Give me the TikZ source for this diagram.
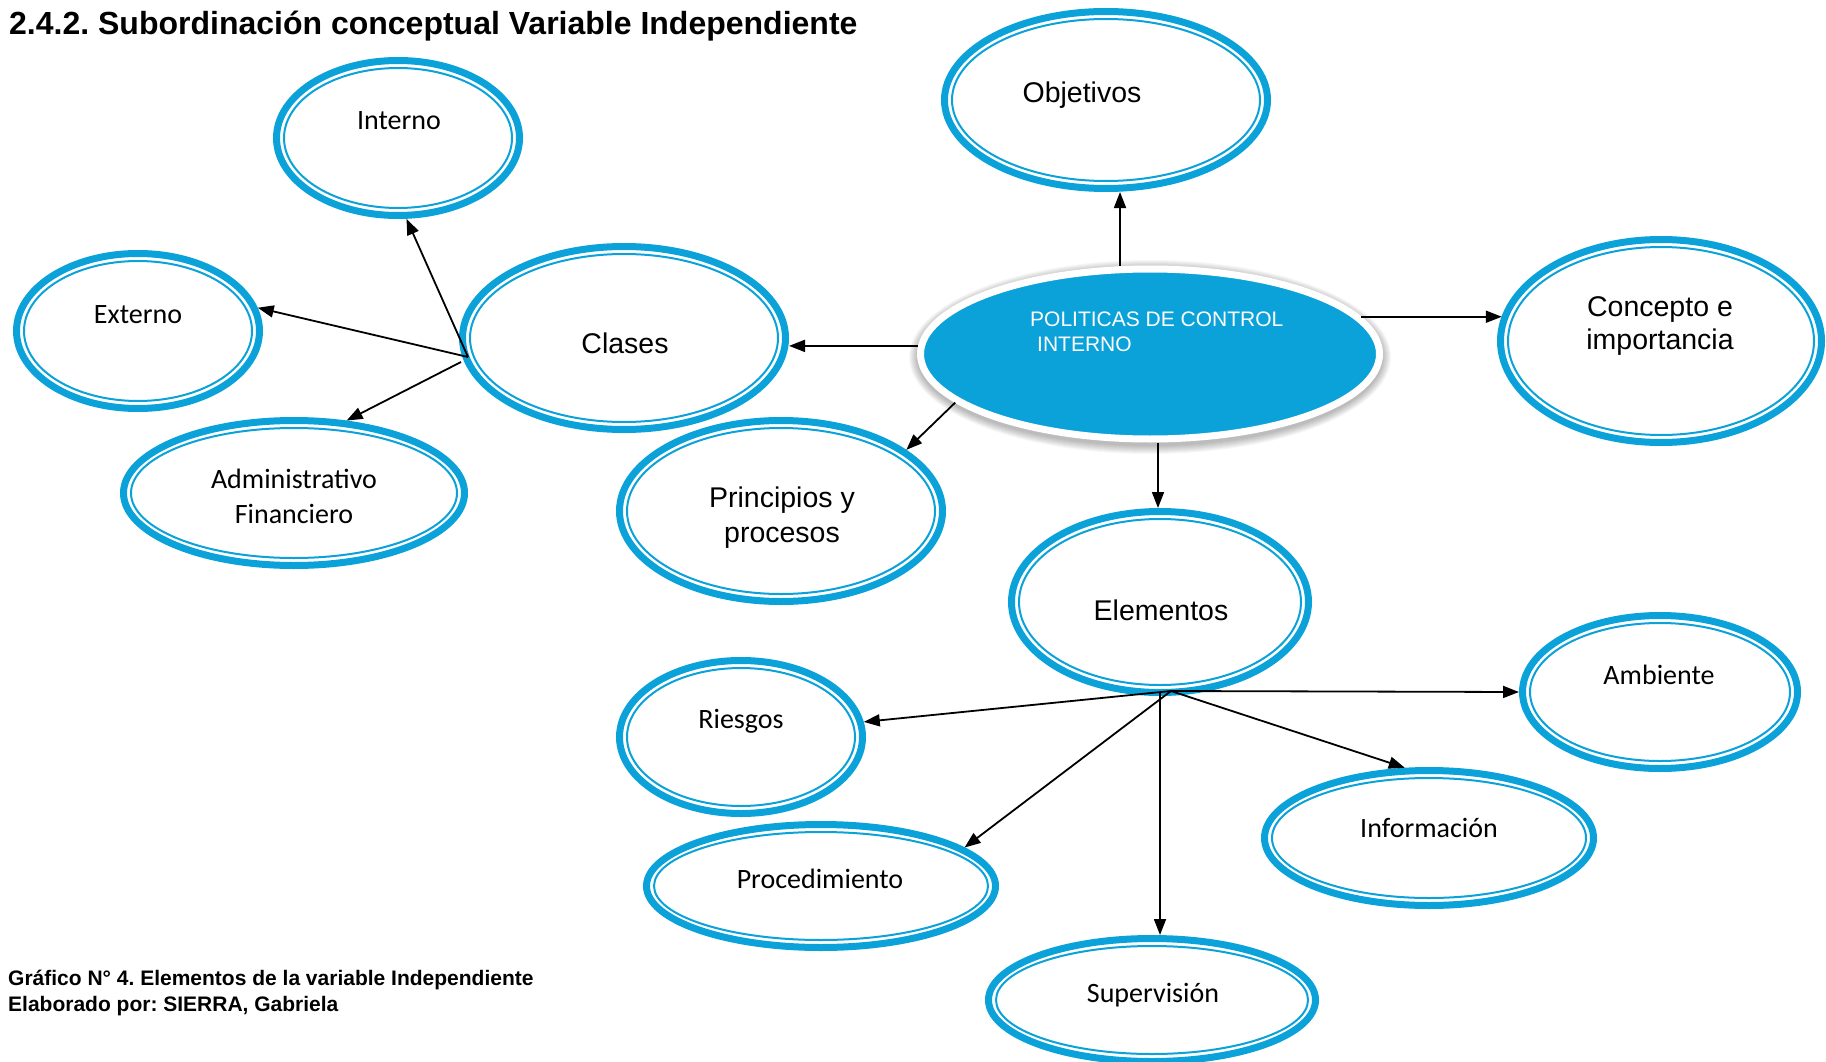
\documentclass[tikz,border=0pt]{standalone}
\usepackage{fontspec}
\setmainfont{Liberation Sans}
\newfontfamily\calibri{Carlito}
\usetikzlibrary{shapes.geometric,arrows.meta}
\definecolor{cblue}{RGB}{11,162,218}
\frenchspacing
\newcommand\bubble[5]{%
  \node[bub, minimum width={2*#4-7}, minimum height={2*#5-7}] (#1) at (#2,#3) {};
  \draw[thinring] (#1.center) ellipse [x radius={#4-11}, y radius={#5-11}];
}
\begin{document}
\begin{tikzpicture}[x=1pt,y=-1pt,
  bub/.style={ellipse, draw=cblue, line width=7pt, inner sep=0pt, fill=white},
  thinring/.style={draw=cblue, line width=2pt},
  arr/.style={draw=black, line width=1.8pt, -{Triangle[length=16pt,width=12pt]}},
  ca/.style={anchor=base, inner sep=0pt, font=\calibri\fontsize{28}{34}\selectfont},
  ar/.style={anchor=base, inner sep=0pt, font=\fontsize{28.5}{34}\selectfont},
  poltxt/.style={anchor=base west, inner sep=0pt, text=white, font=\fontsize{21}{25}\selectfont},
  headtxt/.style={anchor=base west, inner sep=0pt, font=\bfseries\fontsize{32}{38}\selectfont},
  captxt/.style={anchor=base west, inner sep=0pt, font=\bfseries\fontsize{21}{26}\selectfont}]
\fill[white] (0,0) rectangle (1826,1062);
\useasboundingbox (0,0) rectangle (1826,1062);
\clip (0,0) rectangle (1826,1062);

% title and caption
\node[headtxt] (title) at (9,35) {2.4.2. Subordinación conceptual Variable Independiente};
\node[captxt] (cap1) at (8,985) {Gráfico N° 4. Elementos de la variable Independiente};
\node[captxt] (cap2) at (8,1011) {Elaborado por: SIERRA, Gabriela};

% bubbles
\bubble{int}{398}{138}{125}{81}
\bubble{obj}{1106}{100}{165}{92}
\bubble{ext}{138}{331}{125}{81}
\bubble{cla}{624}{338}{165}{95}
\bubble{con}{1661}{341}{164}{105}
\bubble{adm}{294}{493}{174}{76}
\bubble{pri}{781}{511}{165}{94}
\bubble{ele}{1160}{602}{152}{94}
\bubble{amb}{1660}{692}{141}{80}
\bubble{rie}{741}{737}{125}{80}
\bubble{inf}{1429}{838}{168}{71}
\bubble{pro}{821}{886}{178}{65}
\bubble{sup}{1152}{1000}{167}{65}

% soft shadow of the central node
\foreach \i in {1,...,9}
  \fill[black, opacity=0.03] (1150,357) ellipse [x radius={232+\i}, y radius={88+\i}];

% central node
\node[ellipse, fill=cblue, draw=white, line width=7pt, inner sep=0pt,
      minimum width=459pt, minimum height=170pt] (pol) at (1150,354) {};

% texts
\node[ca] (int-t) at (399,130) {Interno};
\node[ar] (obj-t) at (1082,103) {Objetivos};
\node[ca] (ext-t) at (138,323) {Externo};
\node[ar] (cla-t) at (625,353) {Clases};
\node[ar] (con-t1) at (1660,316) {Concepto e};
\node[ar] (con-t2) at (1660,349) {importancia};
\node[ca] (adm-t1) at (294,488) {Administrativo};
\node[ca] (adm-t2) at (294,523) {Financiero};
\node[ar] (pri-t1) at (782,507) {Principios y};
\node[ar] (pri-t2) at (782,542) {procesos};
\node[ar] (ele-t) at (1161,620) {Elementos};
\node[ca] (amb-t) at (1659,684) {Ambiente};
\node[ca] (rie-t) at (741,728) {Riesgos};
\node[ca] (inf-t) at (1429,837) {Información};
\node[ca] (pro-t) at (820,888) {Procedimiento};
\node[ca] (sup-t) at (1153,1002) {Supervisión};
\node[poltxt] (pol-t1) at (1030,326) {POLITICAS DE CONTROL};
\node[poltxt] (pol-t2) at (1037,351) {INTERNO};

% hubs
\coordinate (chub) at (468,357);
\coordinate (chub2) at (461,362);
\coordinate (ehub) at (1171,691);
\coordinate (ehubv) at (1160,693);

% connectors from central node
\draw[arr] ([xshift=-30pt]pol.north) -- ([xshift=-30pt]pol.north |- obj.south);
\draw[arr] (pol.10) -- (pol.10 -| con.171);
\draw[arr] (pol.178) -- (pol.178 -| cla.east);
\draw[arr] (pol.194) -- (pri.26);
\draw[arr] ([xshift=8pt]pol.south) -- ([xshift=8pt]pol.south |- ele.north);

% connectors from Clases
\draw[arr] (chub) -- (int.-84);
\draw[arr] (chub) -- (ext.11);
\draw[arr] (chub2) -- (adm.54);

% connectors from Elementos
\draw[arr] (ehub) -- (rie.7);
\draw[arr] (ehub) -- (amb.west);
\draw[arr] (ehub) -- (inf.109);
\draw[arr] (ehub) -- (pro.15);
\draw[arr] (ehubv) -- (ehubv |- sup.north);
\end{tikzpicture}
\end{document}
